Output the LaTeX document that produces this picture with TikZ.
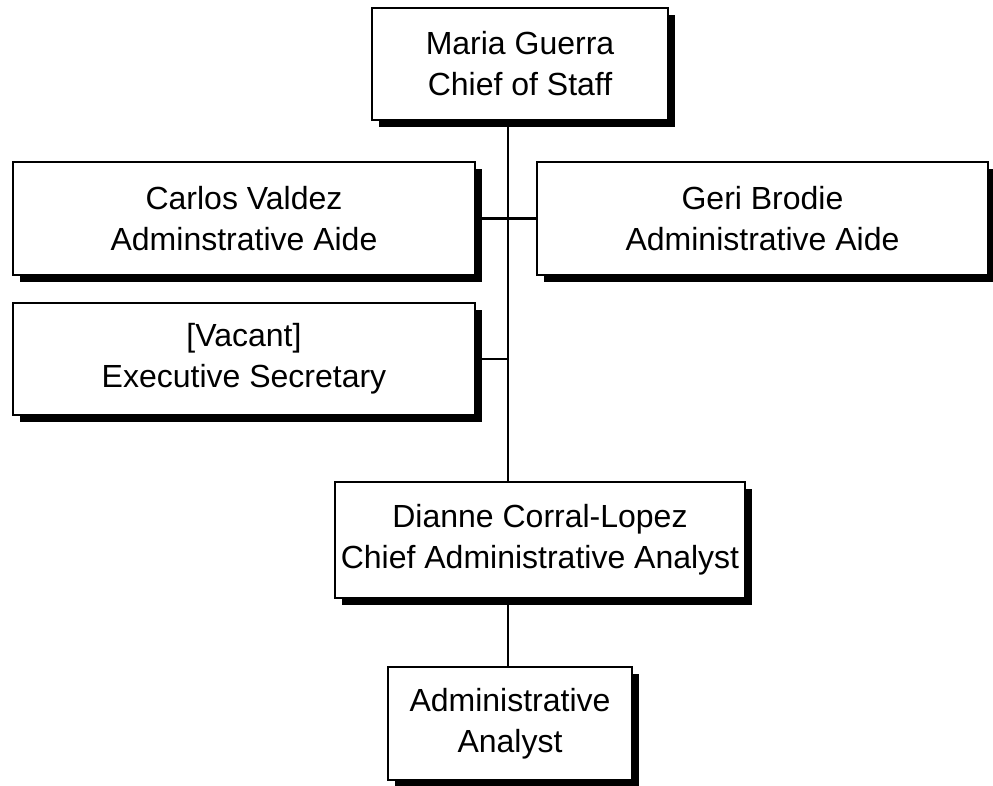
\documentclass[tikz,border=0pt]{standalone}
\usepackage{fontspec}
\setmainfont{Liberation Sans}
\usetikzlibrary{shadows}

\tikzset{
  orgbox/.style={draw, fill=white, line width=2.2pt, align=center,
    inner sep=0pt, font=\fontsize{32}{41}\selectfont,
    drop shadow={shadow xshift=7pt, shadow yshift=-7pt, fill=black, opacity=1}},
  link/.style={line width=2.2pt}
}

\begin{document}
\begin{tikzpicture}[x=1pt,y=-1pt]
  \useasboundingbox (0,0) rectangle (993,785);
  \clip (0,0) rectangle (993,785);
  \node[orgbox, minimum width=296pt, minimum height=112pt] (boss) at (520,64)
    {Maria Guerra\\Chief of Staff};
  \node[orgbox, minimum width=462pt, minimum height=113pt] (carlos) at (244,218.5)
    {Carlos Valdez\\Adminstrative Aide};
  \node[orgbox, minimum width=451pt, minimum height=113pt] (geri) at (762.5,218.5)
    {Geri Brodie\\Administrative Aide};
  \node[orgbox, minimum width=462pt, minimum height=112pt] (vacant) at (244,359)
    {[Vacant]\\Executive Secretary};
  \node[orgbox, minimum width=410pt, minimum height=116pt] (chief) at (540,540)
    {Dianne Corral-Lopez\\Chief Administrative Analyst};
  \node[orgbox, minimum width=244pt, minimum height=113pt] (analyst) at (510,723.5)
    {Administrative\\Analyst};
  \coordinate (spine) at (508,0);
  \draw[link] (boss.south -| spine) -- (chief.north -| spine);
  \draw[link] (carlos.east) -- (geri.west);
  \draw[link] (vacant.east) -- (vacant.east -| spine);
  \draw[link] (chief.south -| spine) -- (analyst.north -| spine);
\end{tikzpicture}
\end{document}
